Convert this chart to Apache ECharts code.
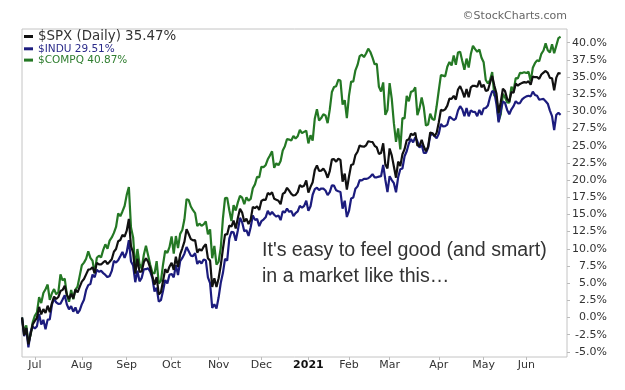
<!DOCTYPE html>
<html><head><meta charset="utf-8">
<script src="https://cdn.jsdelivr.net/npm/echarts@6/dist/echarts.min.js"></script>
<style>html,body{margin:0;padding:0;background:#fff}#c{width:625px;height:390px}</style>
</head><body><div id="c"></div>
<script>
// Trading-day calendar (categories): weekdays from first to last date, minus US market holidays
const firstDay = '2020-06-23';
const lastDay = '2021-06-28';
const marketHolidays = ['2020-07-03','2020-09-07','2020-11-26','2020-12-25','2021-01-01','2021-01-18','2021-02-15','2021-04-02','2021-05-31'];
const monthNames = ['2021','Feb','Mar','Apr','May','Jun','Jul','Aug','Sep','Oct','Nov','Dec'];
const yTicks = [-5,-2.5,0,2.5,5,7.5,10,12.5,15,17.5,20,22.5,25,27.5,30,32.5,35,37.5,40];
const seriesNames = ['$SPX','$INDU','$COMPQ'];
const legendTexts = ['$SPX (Daily) 35.47%','$INDU 29.51%','$COMPQ 40.87%'];
const annotation = "It's easy to feel good (and smart)\nin a market like this…";
const watermark = '©StockCharts.com';

// % change since 2020-06-23, one value per trading day
const spx = [
 0,-2.59,-1.52,-3.90,-2.49,-0.99,
 -0.49,-0.04,1.55,0.45,1.23,0.66,1.72,0.76,2.11,3.04,2.69,2.98,3.85,4.02,4.62,3.33,2.69,3.45,2.78,4.06,3.67,4.47,
 5.22,5.60,6.28,6.96,7.03,7.32,6.46,7.95,7.73,7.72,8.01,8.26,7.78,8.12,8.49,9.58,9.97,11.10,11.28,12.03,11.78,
 12.63,14.36,10.34,9.44,6.40,8.55,6.64,6.70,8.06,8.62,8.12,7.21,6.01,4.78,5.88,3.37,3.68,5.34,7.04,6.52,7.40,
 7.97,6.93,8.86,7.33,9.20,10.08,11.04,12.87,12.16,11.41,11.24,11.26,9.44,9.96,9.72,10.29,10.67,8.61,8.28,4.46,5.71,4.43,
 5.72,7.60,9.97,12.11,12.08,13.39,13.23,14.10,12.96,14.49,15.83,15.27,13.94,14.39,13.61,14.25,16.10,15.92,16.19,15.66,
 16.96,17.17,17.10,18.13,17.91,18.23,17.29,17.14,17.00,16.49,17.99,18.20,18.88,18.46,18.00,17.76,17.84,18.26,19.29,19.03,19.19,19.95,
 18.18,19.02,19.70,21.48,22.14,21.34,21.39,21.67,21.21,20.34,21.32,23.01,23.05,22.68,23.12,22.94,19.78,20.95,18.62,
 20.52,22.20,22.32,23.65,24.13,25.05,24.91,24.86,25.07,25.66,25.59,25.55,25.00,24.76,23.80,23.95,25.36,22.29,21.71,
 24.61,23.60,21.99,20.35,22.70,22.04,23.76,24.51,25.81,25.93,26.75,26.55,26.92,25.04,24.97,25.85,24.89,24.20,24.85,26.93,26.82,26.42,26.88,
 28.38,30.23,30.11,30.30,30.85,31.86,31.83,32.26,31.72,33.19,33.67,32.96,32.05,33.28,32.05,33.50,33.74,33.71,33.59,34.50,33.53,
 33.90,33.00,33.09,34.18,35.17,33.76,32.60,29.76,31.34,33.30,32.96,31.83,31.44,32.83,32.72,34.04,33.75,34.00,34.16,34.26,
 34.20,34.39,33.90,35.08,34.98,35.00,34.75,35.38,35.64,35.89,35.62,34.89,34.83,33.06,34.92,35.61,35.47
];
const indu = [
 0,-2.72,-1.57,-4.36,-2.14,-1.31,
 -1.61,-1.26,0.50,-1.02,-0.34,-1.72,-0.31,-0.27,1.86,2.73,2.21,1.97,2.01,2.62,3.25,1.90,1.20,1.64,0.85,1.47,0.60,1.04,
 1.94,2.57,4.00,4.71,4.88,6.25,5.85,6.96,6.66,6.79,6.46,6.20,5.88,6.05,6.78,8.23,8.00,8.32,8.93,9.55,8.69,
 9.52,11.26,8.17,7.56,5.14,6.82,5.27,5.77,7.02,7.03,7.17,6.67,5.74,3.79,4.33,2.32,2.52,3.89,5.46,4.96,6.21,
 6.35,5.84,7.62,6.18,8.21,8.68,9.29,10.25,9.65,9.01,8.94,9.37,7.80,8.23,7.86,8.44,8.33,5.85,5.00,1.39,1.92,1.32,
 2.94,5.06,6.47,8.54,8.29,11.48,12.48,12.39,11.18,12.71,14.51,13.87,12.55,12.72,11.88,13.13,14.87,14.21,14.35,13.31,
 14.02,14.25,14.58,15.53,14.96,15.36,14.96,14.69,14.87,14.17,15.46,15.29,15.86,15.38,15.52,14.76,15.19,15.46,16.24,15.98,16.26,17.01,
 15.55,16.19,17.87,18.68,18.89,18.55,18.78,18.75,18.49,17.81,18.25,19.24,19.19,18.51,18.37,18.28,15.85,17.00,14.63,
 15.51,17.32,17.46,18.73,19.09,19.99,19.96,20.19,20.17,20.27,20.52,20.86,20.40,20.41,20.51,20.57,22.20,20.06,18.26,
 20.57,20.01,19.55,18.23,20.42,21.59,21.70,23.48,24.20,25.32,25.99,25.50,26.22,25.64,24.74,25.14,23.96,23.95,24.71,26.44,26.82,26.42,26.09,
 26.75,28.18,27.81,27.87,28.09,29.23,29.01,28.75,28.96,30.13,30.76,30.29,29.31,30.51,29.29,30.16,29.92,29.93,29.30,30.22,29.51,
 30.42,30.50,30.87,32.09,32.96,32.83,31.02,28.41,30.07,31.45,31.24,30.22,29.59,30.31,30.78,31.49,31.18,31.22,31.76,32.01,
 32.19,32.28,32.19,32.88,32.40,32.28,31.70,31.77,31.82,31.49,31.13,30.12,29.31,27.27,29.52,29.78,29.51
];
const compq = [
 0,-2.19,-1.13,-3.69,-2.54,-0.72,
 0.23,0.75,2.98,2.10,3.56,4.11,4.80,2.56,3.53,4.14,3.38,3.67,6.27,5.42,5.67,3.26,2.29,4.00,2.67,4.06,4.51,6.06,
 7.61,7.99,8.56,9.64,8.68,8.26,6.43,8.69,8.99,8.76,9.85,10.65,10.02,11.19,11.65,12.32,13.18,15.14,14.75,15.44,16.23,
 17.85,19.00,13.10,11.66,7.07,9.97,7.78,7.13,9.13,10.45,9.07,7.69,6.53,6.39,8.21,4.95,5.34,7.72,9.73,9.41,10.23,
 11.80,9.31,11.86,10.10,12.17,12.73,14.30,17.22,17.10,16.16,15.62,15.20,13.30,13.67,13.36,13.57,13.99,12.12,12.83,8.62,10.41,7.70,
 8.15,10.16,14.40,17.37,17.41,15.62,14.04,16.34,15.58,16.76,17.70,17.45,16.49,17.50,17.01,17.26,18.81,19.38,20.48,20.40,
 21.95,21.89,22.17,23.03,23.58,24.20,21.79,22.45,22.17,22.79,24.32,24.94,25.99,25.90,25.77,26.42,26.06,26.39,27.32,26.84,27.03,27.21,
 25.34,26.53,25.76,28.98,30.31,28.67,29.03,29.59,29.42,28.30,30.26,32.83,33.55,33.67,34.59,34.49,30.99,31.64,29.01,
 32.30,34.36,34.34,35.99,36.77,38.06,38.26,37.91,38.44,39.13,38.65,37.84,36.86,36.94,33.58,32.91,34.22,29.49,30.21,
 34.12,31.86,28.29,25.58,27.53,24.46,29.04,28.99,32.25,31.47,32.85,32.97,33.50,29.46,30.44,32.04,30.56,27.94,28.09,29.68,28.90,28.76,30.75,
 33.05,35.28,35.21,35.11,36.50,37.20,36.70,38.15,36.78,38.57,38.70,37.34,36.07,37.69,36.39,38.35,39.55,39.07,38.69,39.00,37.82,
 37.15,34.57,34.06,34.56,35.74,32.28,32.16,28.63,29.55,32.56,32.05,31.31,31.27,33.60,32.96,34.84,34.80,35.60,35.58,35.71,
 35.58,35.78,34.38,36.35,37.02,37.44,37.31,38.39,38.87,39.90,38.90,38.58,39.78,38.48,39.58,40.68,40.87
];

function buildDates(){
  const out = [];
  const d = new Date(firstDay + 'T12:00:00Z');
  const end = new Date(lastDay + 'T12:00:00Z');
  while (d <= end) {
    const s = d.toISOString().slice(0,10);
    const wd = d.getUTCDay();
    if (wd !== 0 && wd !== 6 && marketHolidays.indexOf(s) < 0) out.push(s);
    d.setUTCDate(d.getUTCDate() + 1);
  }
  return out;
}
const dates = buildDates();
function isMonthStart(i){ return i > 0 && dates[i].slice(0,7) !== dates[i-1].slice(0,7); }

const chart = echarts.init(document.getElementById('c'), null, {renderer:'canvas'});
const colors = ['#111111','#1c1c7e','#247824'];
const richKeys = ['s','i','c'];
chart.setOption({
  animation:false,
  backgroundColor:'#ffffff',
  grid:{left:22, right:58, top:29, bottom:33, show:true, borderColor:'#c4c4c4', borderWidth:1, backgroundColor:'#fff'},
  legend:{
    orient:'vertical', left:24, top:30, padding:0, itemGap:0.3, itemWidth:9, itemHeight:3,
    icon:'rect', selectedMode:false, data:seriesNames,
    formatter: function(name){ const k = seriesNames.indexOf(name); return '{' + richKeys[k] + '|' + legendTexts[k] + '}'; },
    textStyle:{
      rich:{
        s:{fontFamily:'DejaVu Sans', fontSize:13.4, color:'#333', lineHeight:12},
        i:{fontFamily:'DejaVu Sans', fontSize:10.5, color:'#2b2b8a', lineHeight:12},
        c:{fontFamily:'DejaVu Sans', fontSize:10.5, color:'#2e7d2e', lineHeight:12}
      }
    }
  },
  xAxis:{
    type:'category', data:dates, boundaryGap:false,
    axisLine:{show:false, onZero:false},
    axisTick:{show:true, interval:function(i){return isMonthStart(i);}, length:3, lineStyle:{color:'#bbb'}},
    axisLabel:{
      interval:function(i){return isMonthStart(i);}, hideOverlap:false, margin:3,
      fontFamily:'DejaVu Sans', fontSize:11, color:'#333',
      formatter:function(v){ const m = parseInt(v.slice(5,7),10); const t = monthNames[m-1]; return m === 1 ? '{b|' + t + '}' : t; },
      rich:{b:{fontFamily:'DejaVu Sans', fontSize:11, fontWeight:'bold', color:'#111'}}
    },
    splitLine:{show:false}
  },
  yAxis:{
    type:'value', position:'right', min:-5.75, max:42, scale:true,
    axisLine:{show:false},
    axisTick:{show:true, customValues:yTicks, length:3, lineStyle:{color:'#bbb'}},
    axisLabel:{customValues:yTicks, align:'right', margin:40, fontFamily:'DejaVu Sans', fontSize:11, color:'#333',
      formatter:function(v){ return v.toFixed(1) + '%'; }},
    splitLine:{show:false}
  },
  graphic:[
    {type:'text', right:58, top:11, style:{text:watermark, font:'11px "DejaVu Sans"', fill:'#666'}},
    {type:'text', left:262, top:238, style:{text:annotation, font:'19.6px "Liberation Sans"', lineHeight:26, fill:'#333'}}
  ],
  series:[
    {name:seriesNames[0], type:'line', data:spx, showSymbol:false, z:5, lineStyle:{width:2.2, color:colors[0]}, itemStyle:{color:colors[0]}},
    {name:seriesNames[1], type:'line', data:indu, showSymbol:false, z:4, lineStyle:{width:2.2, color:colors[1]}, itemStyle:{color:colors[1]}},
    {name:seriesNames[2], type:'line', data:compq, showSymbol:false, z:3, lineStyle:{width:2.2, color:colors[2]}, itemStyle:{color:colors[2]}}
  ]
});
</script></body></html>
